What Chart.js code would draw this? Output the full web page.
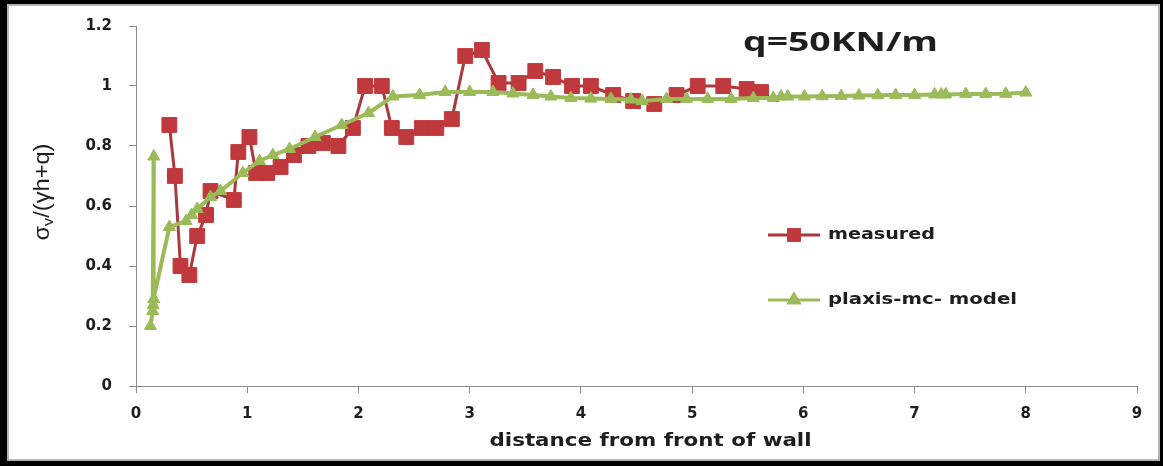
<!DOCTYPE html>
<html>
<head>
<meta charset="utf-8">
<script src="https://cdn.jsdelivr.net/npm/chart.js@4.4.1/dist/chart.umd.min.js"></script>
<style>
  html, body { margin: 0; padding: 0; background: #fff; }
  canvas { display: block; }
</style>
</head>
<body>
<canvas id="chart" width="1163" height="466"></canvas>
<script>
// Normalised vertical stress behind the wall, q = 50 kN/m
const measuredX = [0.30, 0.35, 0.40, 0.48, 0.55, 0.63, 0.67, 0.88, 0.92, 1.02, 1.08, 1.18, 1.30, 1.42,
                   1.55, 1.68, 1.82, 1.95, 2.06, 2.21, 2.30, 2.43, 2.57, 2.70, 2.84, 2.96, 3.11, 3.26,
                   3.44, 3.59, 3.75, 3.92, 4.09, 4.29, 4.47, 4.66, 4.86, 5.05, 5.28, 5.49, 5.62];
const measuredY = [0.87, 0.70, 0.40, 0.37, 0.50, 0.57, 0.65, 0.62, 0.78, 0.83, 0.71, 0.71, 0.73, 0.77,
                   0.80, 0.81, 0.80, 0.86, 1.00, 1.00, 0.86, 0.83, 0.86, 0.86, 0.89, 1.10, 1.12, 1.01,
                   1.01, 1.05, 1.03, 1.00, 1.00, 0.97, 0.95, 0.94, 0.97, 1.00, 1.00, 0.99, 0.98];

const plaxisX = [0.13, 0.15, 0.16, 0.155, 0.16, 0.30, 0.45, 0.50, 0.55, 0.67, 0.76, 0.96, 1.11, 1.23,
                 1.38, 1.61, 1.85, 2.09, 2.31, 2.55, 2.78, 3.00, 3.21, 3.39, 3.57, 3.73, 3.91, 4.09,
                 4.27, 4.45, 4.55, 4.77, 4.95, 5.14, 5.35, 5.55, 5.73, 5.80, 5.86, 6.01, 6.17, 6.34,
                 6.50, 6.67, 6.83, 7.00, 7.18, 7.24, 7.28, 7.46, 7.64, 7.82, 8.00];
const plaxisY = [0.20, 0.25, 0.765, 0.27, 0.29, 0.53, 0.55, 0.57, 0.59, 0.63, 0.65, 0.71, 0.75, 0.77,
                 0.79, 0.83, 0.87, 0.91, 0.965, 0.97, 0.98, 0.98, 0.98, 0.975, 0.97, 0.965, 0.96, 0.958,
                 0.957, 0.955, 0.95, 0.957, 0.957, 0.957, 0.957, 0.96, 0.96, 0.965, 0.965, 0.965, 0.966, 0.967,
                 0.968, 0.969, 0.970, 0.970, 0.972, 0.972, 0.972, 0.973, 0.973, 0.974, 0.978];

const xTicks = [0, 1, 2, 3, 4, 5, 6, 7, 8, 9];
const yTicks = [0, 0.2, 0.4, 0.6, 0.8, 1, 1.2];
const seriesNames = ['measured', 'plaxis-mc- model'];
const loadLabel = 'q=50KN/m';
const xTitle = 'distance from front of wall';

const RED = '#c0393c';
const RED_LINE = '#a8393d';
const GREEN = '#9bbb59';
const AXIS = '#8c8c8c';
const TEXT = '#1e1e1e';

const toPoints = (xs, ys) => xs.map((x, i) => ({ x: x, y: ys[i] }));

// draws text stretched/compressed along its baseline to a given width
function fitText(ctx, text, x, y, width, align) {
  const w = ctx.measureText(text).width;
  const s = width / w;
  ctx.save();
  ctx.translate(x, y);
  ctx.scale(s, 1);
  ctx.textAlign = align || 'left';
  ctx.fillText(text, 0, 0);
  ctx.restore();
}

const decorations = {
  id: 'decorations',
  afterDraw(chart) {
    const ctx = chart.ctx;
    const W = chart.width, H = chart.height;
    const area = chart.chartArea;
    ctx.save();

    // load label
    ctx.fillStyle = TEXT;
    ctx.textBaseline = 'alphabetic';
    ctx.font = 'bold 27px "Open Sans", "DejaVu Sans", sans-serif';
    fitText(ctx, loadLabel, 743, 51, 195, 'left');

    // legend
    const sets = chart.data.datasets;
    const rows = [235, 300];
    rows.forEach((yy, i) => {
      const ds = sets[i];
      ctx.strokeStyle = ds.borderColor;
      ctx.lineWidth = 3;
      ctx.beginPath();
      ctx.moveTo(768, yy);
      ctx.lineTo(820, yy);
      ctx.stroke();
      Chart.helpers.drawPoint(ctx, {
        pointStyle: ds.pointStyle,
        radius: i === 0 ? 7.5 : 5.5,
        borderWidth: 1,
        rotation: 0
      }, 794, yy);
      ctx.fillStyle = ds.pointBackgroundColor;
      ctx.strokeStyle = ds.pointBorderColor;
      ctx.fill();
      ctx.stroke();
      ctx.fillStyle = TEXT;
      ctx.font = 'bold 15px "DejaVu Sans", sans-serif';
      ctx.textBaseline = 'middle';
      fitText(ctx, seriesNames[i], 828, yy, i === 0 ? 107 : 189, 'left');
    });

    // x-axis title
    ctx.fillStyle = TEXT;
    ctx.textBaseline = 'middle';
    ctx.font = 'bold 18px "DejaVu Sans Condensed", "DejaVu Sans", sans-serif';
    fitText(ctx, xTitle, (area.left + area.right) / 2 + 14, 441, 322, 'center');

    // y-axis title: σ_v/(γh+q), rotated
    ctx.save();
    ctx.translate(43, 192);
    ctx.rotate(-Math.PI / 2);
    ctx.textBaseline = 'middle';
    const bigFont = '22px "Liberation Sans", Arial, sans-serif';
    const subFont = '15px "Liberation Sans", Arial, sans-serif';
    ctx.font = bigFont;
    const w1 = ctx.measureText('σ').width;
    const w3 = ctx.measureText('/(γh+q)').width;
    ctx.font = subFont;
    const w2 = ctx.measureText('v').width;
    const total = w1 + w2 + w3;
    const sc = 97 / total;
    ctx.scale(sc, 1);
    let px = -total / 2;
    ctx.font = bigFont;
    ctx.fillText('σ', px, 0);
    px += w1;
    ctx.font = subFont;
    ctx.fillText('v', px, 6);
    px += w2;
    ctx.font = bigFont;
    ctx.fillText('/(γh+q)', px, 0);
    ctx.restore();

    // frame
    ctx.fillStyle = '#000';
    ctx.fillRect(0, 0, 7, H);
    ctx.fillRect(0, 0, W, 4);
    ctx.fillRect(W - 3, 0, 3, H);
    ctx.fillRect(0, H - 5, W, 5);
    ctx.strokeStyle = '#b5b5b5';
    ctx.lineWidth = 2;
    ctx.strokeRect(8, 5, W - 12, H - 11);

    ctx.restore();
  }
};

new Chart(document.getElementById('chart'), {
  type: 'line',
  data: {
    datasets: [
      {
        label: seriesNames[0],
        data: toPoints(measuredX, measuredY),
        borderColor: RED_LINE,
        borderWidth: 3,
        pointStyle: 'rect',
        pointRadius: 10.5,
        pointHoverRadius: 10.5,
        pointBackgroundColor: RED,
        pointBorderColor: RED,
        pointBorderWidth: 1,
        tension: 0,
        order: 2
      },
      {
        label: seriesNames[1],
        data: toPoints(plaxisX, plaxisY),
        borderColor: GREEN,
        borderWidth: 4,
        pointStyle: 'triangle',
        pointRadius: 7,
        pointHoverRadius: 7,
        pointBackgroundColor: GREEN,
        pointBorderColor: GREEN,
        pointBorderWidth: 1,
        tension: 0,
        order: 1
      }
    ]
  },
  options: {
    responsive: false,
    animation: false,
    devicePixelRatio: 1,
    clip: false,
    layout: { autoPadding: false, padding: { top: 19, right: 26, bottom: 0, left: 0 } },
    plugins: {
      legend: { display: false },
      tooltip: { enabled: false },
      title: { display: false }
    },
    scales: {
      x: {
        type: 'linear',
        min: 0,
        max: 9,
        afterBuildTicks: s => { s.ticks = xTicks.map(v => ({ value: v })); },
        afterFit: s => { s.height = 80; },
        ticks: {
          color: TEXT,
          padding: 12,
          font: { family: '"DejaVu Sans", sans-serif', size: 15, weight: 'bold' },
          callback: v => String(v)
        },
        grid: { drawOnChartArea: false, drawTicks: true, tickLength: 7, color: AXIS },
        border: { color: AXIS, width: 1 }
      },
      y: {
        type: 'linear',
        min: 0,
        max: 1.2,
        afterBuildTicks: s => { s.ticks = yTicks.map(v => ({ value: v })); },
        afterFit: s => { s.width = 136; },
        ticks: {
          color: TEXT,
          padding: 17,
          font: { family: '"DejaVu Sans", sans-serif', size: 15, weight: 'bold' },
          callback: v => String(+v.toFixed(1))
        },
        grid: { drawOnChartArea: false, drawTicks: true, tickLength: 7, color: AXIS },
        border: { color: AXIS, width: 1 }
      }
    }
  },
  plugins: [decorations]
});
</script>
</body>
</html>
